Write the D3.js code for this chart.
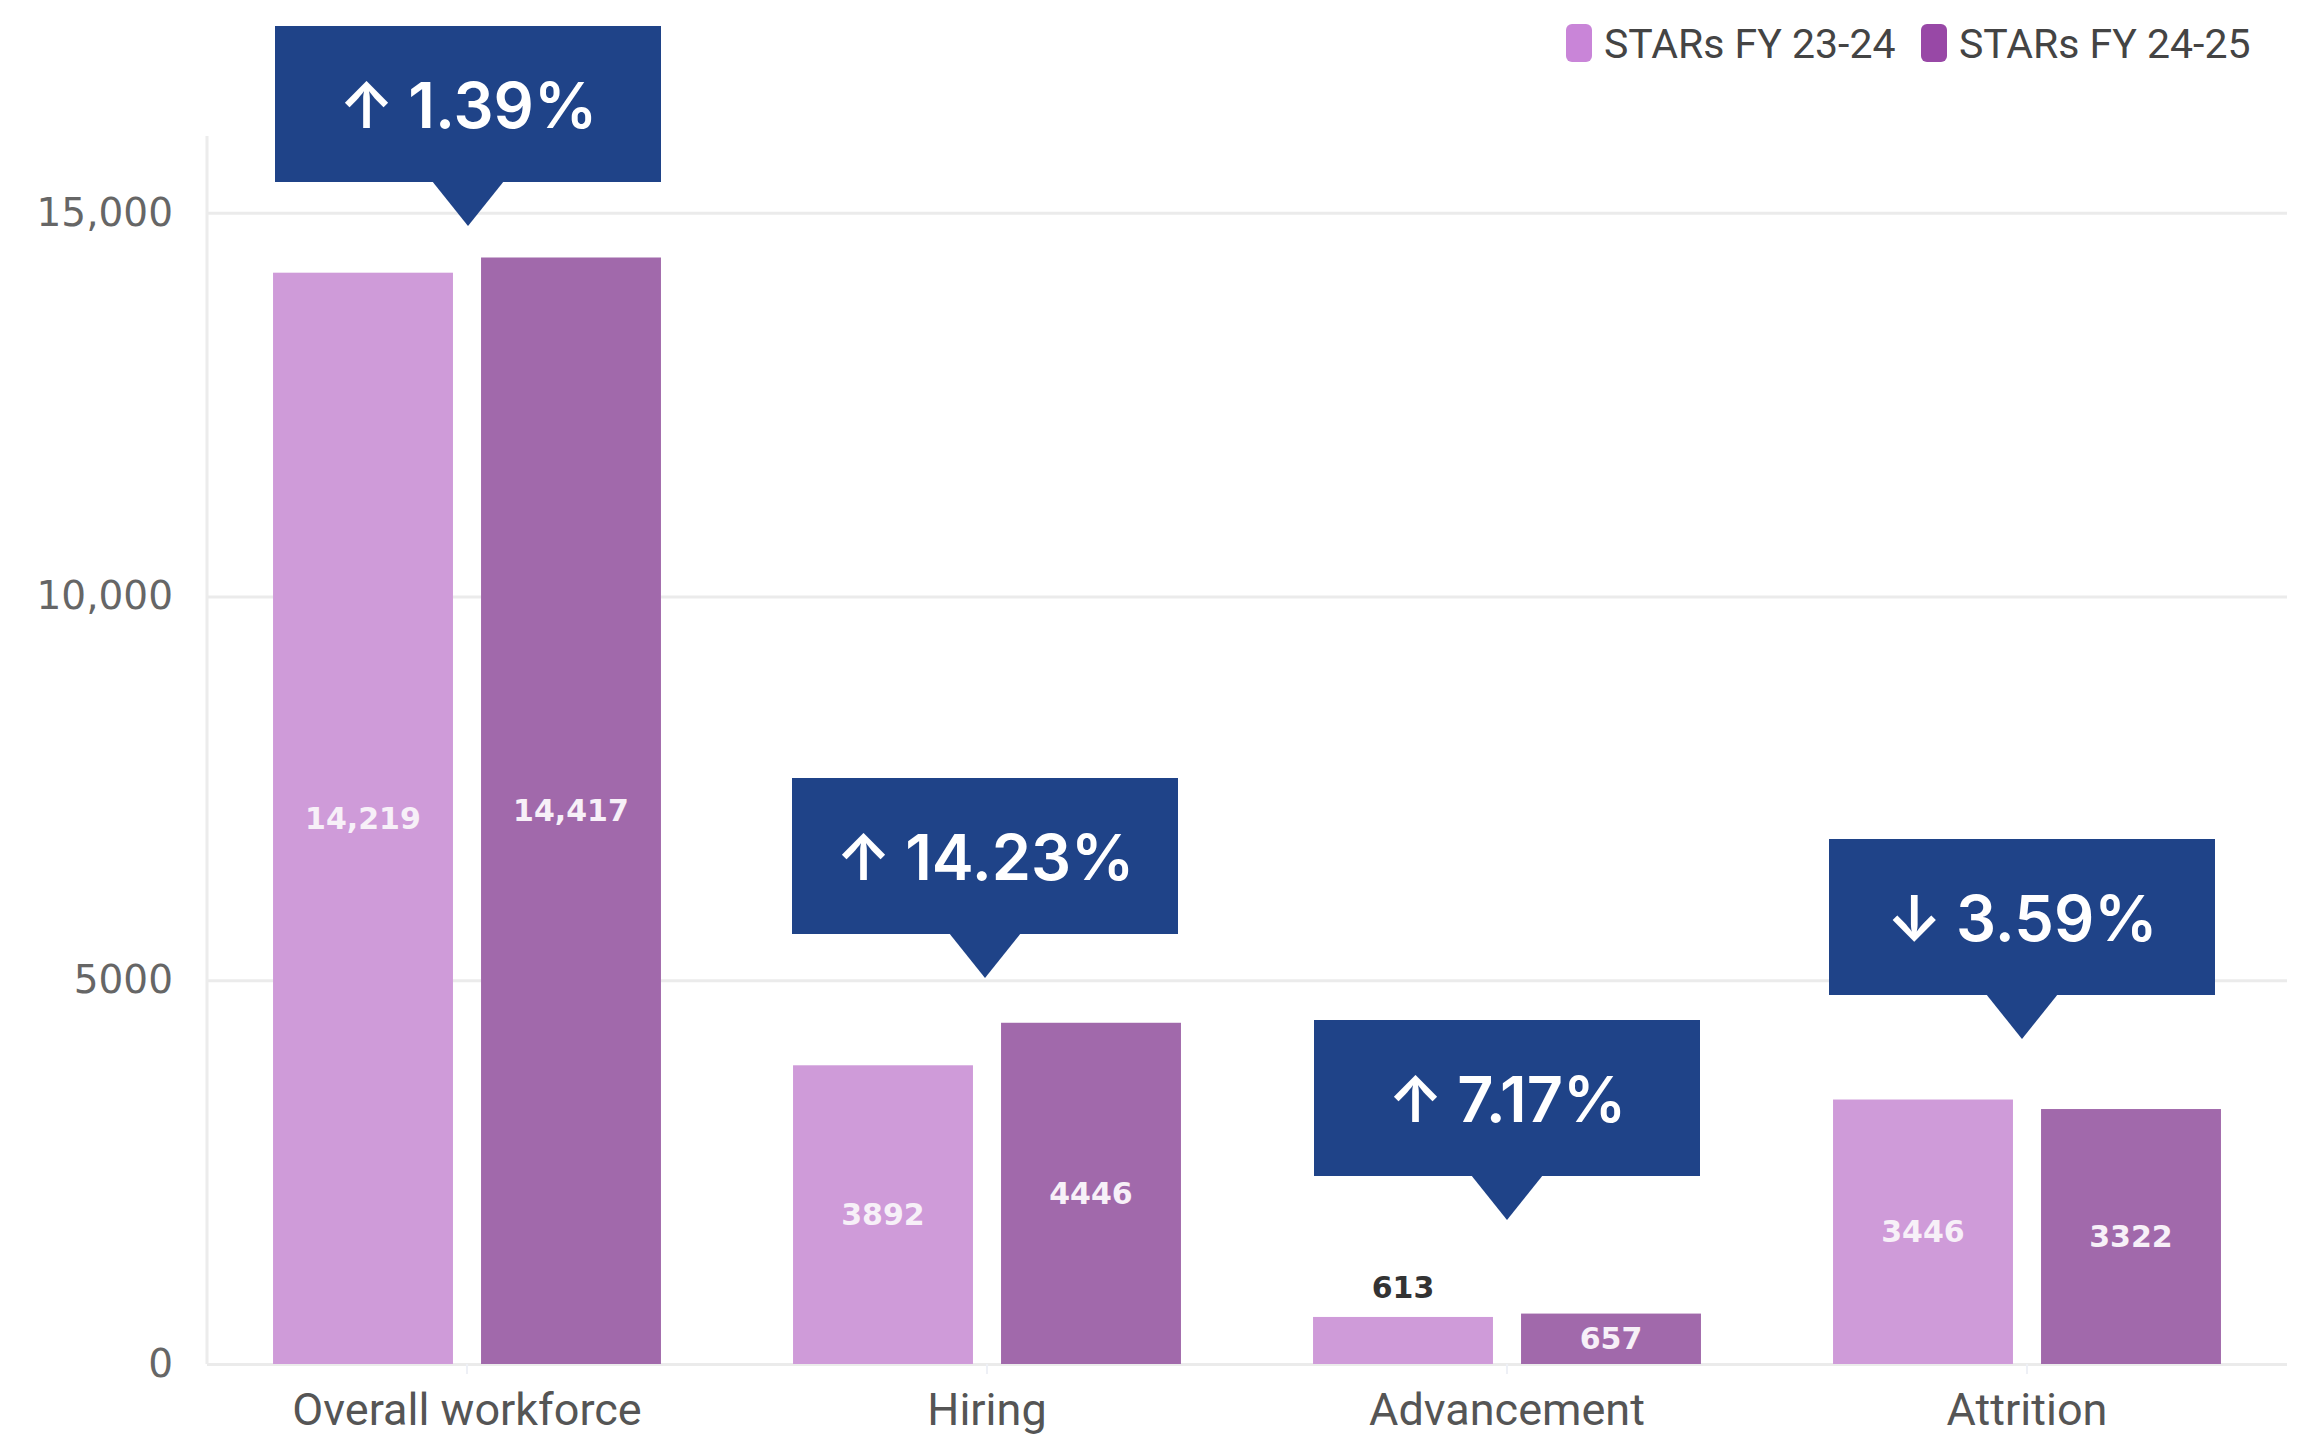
<!DOCTYPE html>
<html>
<head>
<meta charset="utf-8">
<script src="https://cdn.jsdelivr.net/npm/d3@7"></script>
<style>
  body { margin: 0; background: #fff; }
  svg { display: block; }
</style>
</head>
<body>
<div id="chart"></div>
<script>
// data
const categories = ["Overall workforce", "Hiring", "Advancement", "Attrition"];
const seriesNames = ["STARs FY 23-24", "STARs FY 24-25"];
const fy2324 = [14219, 3892, 613, 3446];
const fy2425 = [14417, 4446, 657, 3322];
const changeLabels = ["1.39%", "14.23%", "7.17%", "3.59%"];
const yTicks = [0, 5000, 10000, 15000];

const width = 2305, height = 1448;
const plot = { left: 207, right: 2287, top: 136, bottom: 1364 };

const barColors = ["#cf9bd9", "#a169ab"];
const legendColors = ["#c985d8", "#9848a6"];
const calloutFill = "#1f4388";
// top edge of each callout box, in px (placed by hand in the original)
const calloutTop = [26, 778, 1020, 839];
const calloutShift = [1, -2, 0, -5];

const rows = categories.map((c, i) => ({
  category: c,
  values: [fy2324[i], fy2425[i]],
  change: changeLabels[i],
  up: fy2425[i] >= fy2324[i]
}));

const svg = d3.select("#chart")
  .append("svg")
  .attr("width", width)
  .attr("height", height);

const x0 = d3.scaleBand()
  .domain(categories)
  .range([plot.left, plot.right])
  .paddingInner(0.254)
  .paddingOuter(0.127);

const x1 = d3.scaleBand()
  .domain([0, 1])
  .range([0, x0.bandwidth()])
  .paddingInner(0.135);

const y = d3.scaleLinear()
  .domain([0, 16000])
  .range([plot.bottom, plot.top]);

// grid + y labels
const yAxis = d3.axisLeft(y)
  .tickValues(yTicks)
  .tickSize(-(plot.right - plot.left))
  .tickPadding(34)
  .tickFormat(d => d >= 10000 ? d3.format(",")(d) : d);

const gy = svg.append("g")
  .attr("class", "y-axis")
  .attr("transform", `translate(${plot.left},0)`)
  .call(yAxis);
gy.select(".domain").remove();
gy.selectAll("line").attr("stroke", "#ebebeb").attr("stroke-width", 3);
gy.selectAll("text")
  .attr("fill", "#666")
  .style("font-family", "'DejaVu Sans', sans-serif")
  .style("font-size", "39px");

svg.append("line")
  .attr("x1", plot.left).attr("x2", plot.left)
  .attr("y1", plot.top).attr("y2", plot.bottom)
  .attr("stroke", "#ececec")
  .attr("stroke-width", 3);

// x axis
const gx = svg.append("g")
  .attr("class", "x-axis")
  .attr("transform", `translate(0,${plot.bottom})`)
  .call(d3.axisBottom(x0).tickSize(10).tickPadding(0));
gx.select(".domain").remove();
gx.selectAll("line").attr("stroke", "#eef0f6").attr("stroke-width", 2);
gx.selectAll("text")
  .attr("y", 45)
  .attr("dy", "0.35em")
  .attr("fill", "#555")
  .style("font-family", "Roboto, sans-serif")
  .style("font-size", "45px");

// bars
const groups = svg.selectAll(".group")
  .data(rows)
  .enter().append("g")
  .attr("class", "group")
  .attr("transform", d => `translate(${x0(d.category)},0)`);

const bars = groups.selectAll(".bar")
  .data(d => d.values.map((v, i) => ({ v, i })))
  .enter();

bars.append("rect")
  .attr("class", "bar")
  .attr("x", d => x1(d.i))
  .attr("y", d => y(d.v))
  .attr("width", x1.bandwidth())
  .attr("height", d => y(0) - y(d.v))
  .attr("fill", d => barColors[d.i]);

bars.append("text")
  .attr("x", d => x1(d.i) + x1.bandwidth() / 2)
  .attr("y", d => {
    const h = y(0) - y(d.v);
    return h >= 49 ? y(d.v) + h / 2 : y(d.v) - 29;
  })
  .attr("dy", "0.35em")
  .attr("text-anchor", "middle")
  .attr("fill", d => (y(0) - y(d.v) >= 49) ? "#f7f0f8" : "#333")
  .style("font-family", "'DejaVu Sans', sans-serif")
  .style("font-weight", "bold")
  .style("font-size", "30px")
  .text(d => d.v >= 10000 ? d3.format(",")(d.v) : d.v);

// change callouts
const boxW = 386, boxH = 156, tipW = 36, tipH = 44;
const callouts = svg.selectAll(".callout")
  .data(rows)
  .enter().append("g")
  .attr("class", "callout")
  .attr("transform", (d, i) =>
    `translate(${x0(d.category) + x0.bandwidth() / 2 + calloutShift[i]},${calloutTop[i]})`);

callouts.append("rect")
  .attr("x", -boxW / 2)
  .attr("width", boxW)
  .attr("height", boxH)
  .attr("fill", calloutFill);

callouts.append("path")
  .attr("d", `M${-tipW},${boxH - 1}L${tipW},${boxH - 1}L0,${boxH + tipH}Z`)
  .attr("fill", calloutFill);

const ct = callouts.append("text")
  .attr("y", boxH / 2 + 2)
  .attr("dy", "0.35em")
  .attr("text-anchor", "middle")
  .attr("fill", "#fff")
  .style("font-family", "Inter, 'Open Sans', sans-serif")
  .style("font-weight", 600)
  .style("font-size", "63px");
ct.append("tspan")
  .style("font-weight", 600)
  .text(d => d.up ? "↑" : "↓");
ct.append("tspan")
  .attr("dx", 14)
  .text(d => d.change);

// legend
const legend = svg.append("g").attr("class", "legend");
const legendX = [1566, 1921];
seriesNames.forEach((name, i) => {
  legend.append("rect")
    .attr("x", legendX[i])
    .attr("y", 24)
    .attr("width", 26)
    .attr("height", 38)
    .attr("rx", 6)
    .attr("fill", legendColors[i]);
  legend.append("text")
    .attr("x", legendX[i] + 38)
    .attr("y", 44)
    .attr("dy", "0.35em")
    .attr("fill", "#444")
    .style("font-family", "Roboto, sans-serif")
    .style("font-size", "41px")
    .text(name);
});
</script>
</body>
</html>
